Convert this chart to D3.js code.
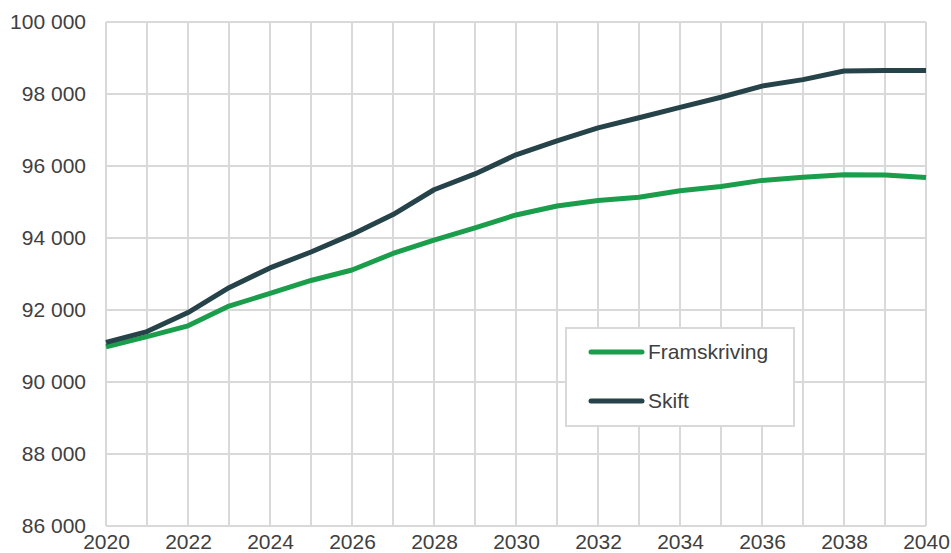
<!DOCTYPE html>
<html>
<head>
<meta charset="utf-8">
<script src="https://cdn.jsdelivr.net/npm/d3@7"></script>
<style>
  body { margin: 0; background: #fff; }
  svg text { font-family: "Liberation Sans", Arial, sans-serif; fill: #404040; }
</style>
</head>
<body>
<script>
var years = d3.range(2020, 2041);
var framskriving = [90980, 91260, 91560, 92110, 92460, 92820, 93110, 93570, 93940, 94280, 94640,
    94890, 95040, 95130, 95310, 95430, 95600, 95690, 95760, 95750, 95680];
var skift = [91100, 91400, 91930, 92620, 93170, 93610, 94100, 94650, 95340, 95780, 96310,
    96700, 97060, 97340, 97630, 97910, 98220, 98400, 98640, 98650, 98650];
var yTicks = [86000, 88000, 90000, 92000, 94000, 96000, 98000, 100000];
var xTicks = d3.range(2020, 2041, 2);
var seriesNames = ["Framskriving", "Skift"];
var colors = ["#1b9e4b", "#26434a"];

var width = 951, height = 553;
var svg = d3.select("body").append("svg")
    .attr("width", width)
    .attr("height", height);

var x = d3.scaleLinear().domain([2020, 2040]).range([106, 926]);
var y = d3.scaleLinear().domain([86000, 100000]).range([526, 22]);

var fmt = function(d) {
    return d3.format(",")(d).replace(/,/g, " ");
};

// grid
svg.append("g").selectAll("line")
    .data(years)
    .enter()
    .append("line")
    .attr("x1", function(d) { return x(d); })
    .attr("x2", function(d) { return x(d); })
    .attr("y1", y(100000))
    .attr("y2", y(86000))
    .attr("stroke", "#d9d9d9")
    .attr("stroke-width", 2);

svg.append("g").selectAll("line")
    .data(yTicks)
    .enter()
    .append("line")
    .attr("x1", x(2020))
    .attr("x2", x(2040))
    .attr("y1", function(d) { return y(d); })
    .attr("y2", function(d) { return y(d); })
    .attr("stroke", "#d9d9d9")
    .attr("stroke-width", 2);

// axis labels
var yAxis = svg.append("g")
    .attr("transform", "translate(" + (x(2020) - 20) + ",0)")
    .call(d3.axisLeft(y).tickValues(yTicks).tickFormat(fmt).tickSize(0));
yAxis.select(".domain").remove();
yAxis.selectAll("text")
    .attr("x", 0)
    .style("font-size", "21px")
    .style("font-family", "Liberation Sans, Arial, sans-serif")
    .attr("fill", "#404040");

var xAxis = svg.append("g")
    .attr("transform", "translate(0," + (y(86000) + 3) + ")")
    .call(d3.axisBottom(x).tickValues(xTicks).tickFormat(d3.format("d")).tickSize(0));
xAxis.select(".domain").remove();
xAxis.selectAll("text")
    .attr("y", 0)
    .attr("dy", "0.95em")
    .style("font-size", "21px")
    .style("font-family", "Liberation Sans, Arial, sans-serif")
    .attr("fill", "#404040");

// lines
var line = d3.line()
    .x(function(d, i) { return x(years[i]); })
    .y(function(d) { return y(d); });

[framskriving, skift].forEach(function(values, i) {
    svg.append("path")
        .datum(values)
        .attr("d", line)
        .attr("fill", "none")
        .attr("stroke", colors[i])
        .attr("stroke-width", 5)
        .attr("stroke-linejoin", "round");
});

// legend
var legend = svg.append("g");
legend.append("rect")
    .attr("x", 566)
    .attr("y", 328)
    .attr("width", 228)
    .attr("height", 98)
    .attr("fill", "#fff")
    .attr("stroke", "#d9d9d9")
    .attr("stroke-width", 2);

seriesNames.forEach(function(name, i) {
    var ly = 352 + i * 49;
    legend.append("line")
        .attr("x1", 591)
        .attr("x2", 642)
        .attr("y1", ly)
        .attr("y2", ly)
        .attr("stroke", colors[i])
        .attr("stroke-width", 5)
        .attr("stroke-linecap", "round");
    legend.append("text")
        .attr("x", 648)
        .attr("y", ly)
        .attr("dy", "0.35em")
        .style("font-size", "21px")
        .text(name);
});
</script>
</body>
</html>
